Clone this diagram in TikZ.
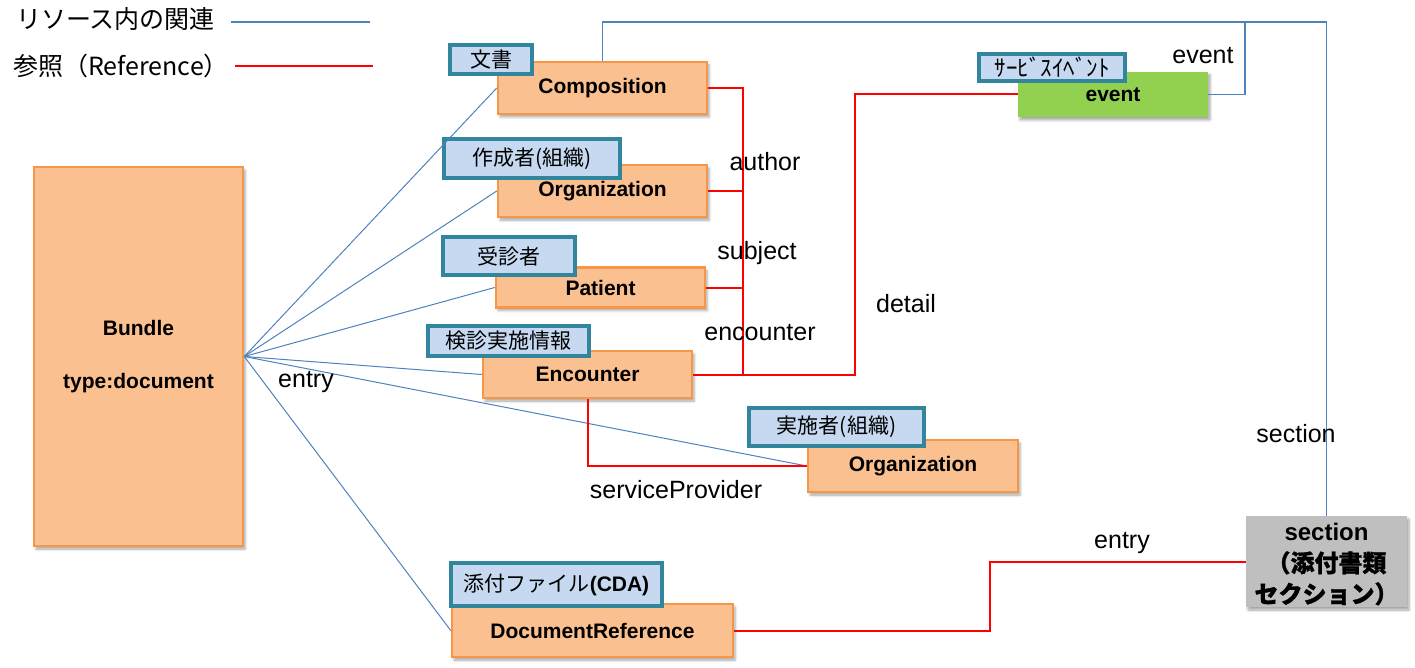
\documentclass[tikz,border=0pt]{standalone}
\usepackage{fontspec}
\setmainfont{Liberation Sans}
\newfontfamily\cjk{Noto Sans CJK JP}
\newfontfamily\cjkb[FakeBold=1]{Noto Sans CJK JP}
\usetikzlibrary{shadows.blur}

\definecolor{boxfill}{HTML}{FAC090}
\definecolor{boxline}{HTML}{F79646}
\definecolor{tagfill}{HTML}{C6D9F1}
\definecolor{tagline}{HTML}{31859C}
\definecolor{evfill}{HTML}{92D050}
\definecolor{secfill}{HTML}{BFBFBF}
\definecolor{relblue}{HTML}{4F81BD}
\definecolor{refred}{HTML}{FF0000}

\tikzset{
  boxshadow/.style={blur shadow={shadow xshift=2pt, shadow yshift=-3pt, shadow blur radius=2.5pt, shadow opacity=35}},
  obox/.style={draw=boxline, fill=boxfill, line width=2.5pt, boxshadow, inner sep=0pt,
    font=\fontsize{21}{25}\selectfont\bfseries},
  evbox/.style={fill=evfill, boxshadow, inner sep=0pt, font=\fontsize{21}{25}\selectfont\bfseries},
  secbox/.style={fill=secfill, boxshadow, inner sep=0pt},
  sectext/.style={inner sep=0pt, align=center, font=\fontsize{24}{31}\selectfont\bfseries},
  tagbox/.style={draw=tagline, fill=tagfill, line width=3.5pt, inner sep=0pt,
    font=\fontsize{21}{24}\selectfont\cjk},
  rel/.style={draw=relblue, line width=1pt},
  relthick/.style={draw=relblue, line width=1.5pt},
  refl/.style={draw=refred, line width=2pt},
  lbl/.style={font=\fontsize{25}{28}\selectfont, inner sep=0pt},
  legend/.style={font=\fontsize{25}{29}\selectfont\cjk, inner sep=0pt, anchor=west},
}

\begin{document}
\begin{tikzpicture}[x=1pt, y=-1pt]
\useasboundingbox (0,0) rectangle (1415,668);

% legend
\node[legend] (legrel) at (16,19) {リソース内の関連};
\node[legend] (legref) at (13,66) {参照（Reference）};
\coordinate (legrelA) at (231,22);
\coordinate (legrelB) at (370,22);
\coordinate (legrefA) at (235,66);
\coordinate (legrefB) at (373,66);
\draw[relthick] (legrelA) -- (legrelB);
\draw[refl] (legrefA) -- (legrefB);

% resource boxes
\node[obox, minimum width=209pt, minimum height=379pt, align=center,
      font=\fontsize{21}{53}\selectfont\bfseries] (bundle) at (138.5,356.5) {Bundle\\type:document};
\node[obox, minimum width=209pt, minimum height=52pt] (comp) at (602.5,88) {Composition};
\node[obox, minimum width=209pt, minimum height=52pt] (orgA) at (602.5,191) {Organization};
\node[obox, minimum width=209pt, minimum height=40pt] (pat) at (600.5,287.5) {Patient};
\node[obox, minimum width=209pt, minimum height=47pt] (enc) at (587.5,374.5) {Encounter};
\node[obox, minimum width=210pt, minimum height=52pt] (orgB) at (913,466) {Organization};
\node[obox, minimum width=281pt, minimum height=53pt] (doc) at (592.5,630.5) {DocumentReference};
\node[evbox, minimum width=190pt, minimum height=45pt] (event) at (1113,94.5) {event};
\node[secbox, minimum width=161pt, minimum height=91pt] (sec) at (1326.5,561.5) {};
\node[sectext] (sectxt) at (1326.5,564.5) {section\\{\cjkb （添付書類}\\{\cjkb セクション）}};

% tags
\node[tagbox, minimum width=82pt, minimum height=29pt] (tagcomp) at (491,59.5) {文書};
\node[tagbox, minimum width=176pt, minimum height=39pt] (tagorgA) at (532,158.5) {作成者(組織)};
\node[tagbox, minimum width=132pt, minimum height=38pt] (tagpat) at (509,256) {受診者};
\node[tagbox, minimum width=161pt, minimum height=30pt] (tagenc) at (508.5,341) {検診実施情報};
\node[tagbox, minimum width=175pt, minimum height=38pt] (tagorgB) at (836.5,427) {実施者(組織)};
\node[tagbox, minimum width=211pt, minimum height=43pt] (tagdoc) at (556.5,584.5) {添付ファイル{\rmfamily\bfseries (CDA)}};
\node[tagbox, minimum width=146pt, minimum height=27pt, font=\fontsize{23}{25}\selectfont\cjk] (tagev) at (1052,67.5) {ｻｰﾋﾞｽｲﾍﾞﾝﾄ};

% relations inside the Bundle
\draw[rel] (bundle.east) -- (comp.west);
\draw[rel] (bundle.east) -- (orgA.west);
\draw[rel] (bundle.east) -- (pat.west);
\draw[rel] (bundle.east) -- (enc.west);
\draw[rel] (bundle.east) -- (orgB.west);
\draw[rel] (bundle.east) -- (doc.west);

% composition section structure
\coordinate (topline) at (0,22);
\coordinate (evx) at (1245,0);
\draw[relthick] (comp.north) -- (comp.north |- topline) -- (sec.north |- topline) -- (sec.north);
\draw[relthick] (event.east) -- (event.east -| evx) -- (evx |- topline);

% references
\coordinate (bus) at (743,0);
\coordinate (detx) at (855,0);
\coordinate (entx) at (990,0);
\draw[refl] (comp.east) -- (comp.east -| bus) -- (enc.east -| bus);
\draw[refl] (orgA.east) -- (orgA.east -| bus);
\draw[refl] (pat.east) -- (pat.east -| bus);
\draw[refl] (enc.east) -- (enc.east -| detx) -- (detx |- event.west) -- (event.west);
\draw[refl] (enc.south) -- (enc.south |- orgB.west) -- (orgB.west);
\draw[refl] (doc.east) -- (doc.east -| entx) -- (entx |- sec.west) -- (sec.west);

% labels
\node[lbl] (lauthor) at (765,162) {author};
\node[lbl] (lsubject) at (757,253) {subject};
\node[lbl] (lenc) at (760,333) {encounter};
\node[lbl] (ldetail) at (906,304) {detail};
\node[lbl] (lentryA) at (306,382) {entry};
\node[lbl] (lsp) at (676,490) {serviceProvider};
\node[lbl] (levent) at (1203,56) {event};
\node[lbl] (lsection) at (1296,434) {section};
\node[lbl] (lentryB) at (1122,543) {entry};
\end{tikzpicture}
\end{document}
